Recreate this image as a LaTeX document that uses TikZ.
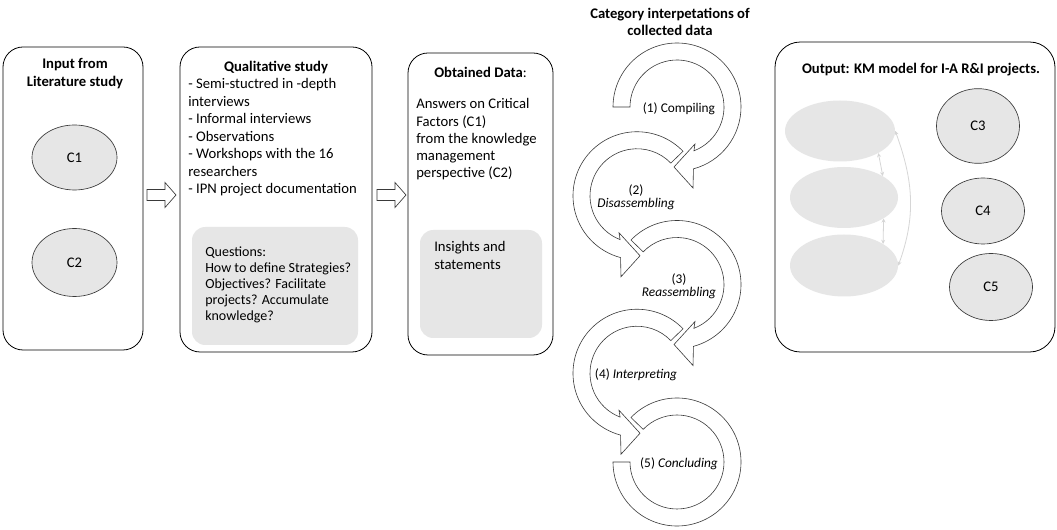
\documentclass[tikz,border=0pt]{standalone}
\usepackage{fontspec}
\setmainfont{Carlito}
\usetikzlibrary{arrows.meta,shapes.geometric}
\definecolor{panelgray}{HTML}{E6E6E6}
\definecolor{linkgray}{HTML}{D6D6D6}
\definecolor{edge}{HTML}{3A3A3A}

% circular arrow of the analysis cycle, drawn around the origin
\newcommand{\cycleheadpart}{-- (16,-81) -- (-3,-60) -- (18,-37) -- (-68.9:47)}

\begin{document}
\begin{tikzpicture}[x=0.75pt,y=0.75pt,
  panel/.style={draw=black, line width=0.6pt, rounded corners=15pt},
  graypanel/.style={fill=panelgray, rounded corners=10pt},
  crit/.style={ellipse, draw=edge, fill=panelgray, line width=0.5pt, inner sep=0pt,
    font=\fontsize{11}{13}\selectfont},
  blank/.style={ellipse, fill=panelgray, inner sep=0pt},
  title/.style={font=\bfseries\fontsize{11}{13.5}\selectfont, align=center, inner sep=0pt},
  body/.style={font=\fontsize{11}{13.1}\selectfont, align=left, inner sep=0pt, anchor=north west},
  qtext/.style={font=\fontsize{10.5}{12}\selectfont, align=left, inner sep=0pt, anchor=north west},
  blockarrow/.style={draw=edge, fill=white, line width=0.5pt, line join=miter},
  cyc/.style={draw=edge, fill=white, line width=0.45pt,
    preaction={draw=white, line width=3.2pt}},
  steplabel/.style={font=\fontsize{10}{9.75}\selectfont, align=center, inner sep=0pt},
  link/.style={draw=linkgray, line width=0.6pt,
    {Stealth[length=3pt,width=3pt]}-{Stealth[length=3pt,width=3pt]}}
]
\useasboundingbox (0,0) rectangle (1057,-530);
\fill[white] (0,0) rectangle (1057,-530);

% ---- input from literature
\draw[panel] (3,-47) rectangle (143,-350);
\node[title] (littitle) at (75,-74) {Input from\\Literature study};
\node[crit, minimum width=63.75pt, minimum height=48.75pt] (c1) at (74.5,-157.5) {C1};
\node[crit, minimum width=63.75pt, minimum height=51pt] (c2) at (74.5,-262.5) {C2};

% ---- block arrow
\coordinate (ba1) at (147,-195);
\draw[blockarrow] (ba1) ++(0,5.5) -- ++(18,0) -- ++(0,7) -- ++(11,-12.5)
  -- ++(-11,-12.5) -- ++(0,7) -- ++(-18,0) -- cycle;

% ---- qualitative study
\draw[panel] (180,-47) rectangle (372,-352);
\node[title] (qualtitle) at (276,-68) {Qualitative study};
\node[body] (qualtext) at (188,-78.5) {- Semi-stuctred in -depth\\interviews\\- Informal interviews\\- Observations\\- Workshops with the 16\\researchers\\- IPN project documentation};
\fill[graypanel] (192,-227) rectangle (358,-345);
\node[qtext] (questions) at (205,-247) {Questions:\\How to define Strategies?\\Objectives? Facilitate\\projects? Accumulate\\knowledge?};

% ---- block arrow
\coordinate (ba2) at (377,-195);
\draw[blockarrow] (ba2) ++(0,5.5) -- ++(18,0) -- ++(0,7) -- ++(11,-12.5)
  -- ++(-11,-12.5) -- ++(0,7) -- ++(-18,0) -- cycle;

% ---- obtained data
\draw[panel] (408,-53) rectangle (553,-355);
\node[inner sep=0pt, font=\fontsize{11}{13.5}\selectfont] (datatitle) at (480.5,-72) {\textbf{Obtained Data}:};
\node[body, font=\fontsize{11}{12.9}\selectfont] (datatext) at (416,-98.5) {Answers on Critical\\Factors (C1)\\from the knowledge\\management\\perspective (C2)};
\fill[graypanel] (420,-230) rectangle (542,-338);
\node[body, font=\fontsize{11}{12.9}\selectfont] (insights) at (434,-241.5) {Insights and\\statements};

% ---- analysis cycle
\node[title, font=\bfseries\fontsize{11}{12.75}\selectfont] (cattitle) at (670,-21.5) {Category interpetations of\\collected data};

\begin{scope}[shift={(677,-462)}]
  \draw[cyc] (136:64) arc[start angle=136, end angle=-180, radius=64]
    -- (-180:47) arc[start angle=-180, end angle=136, radius=47] -- cycle;
\end{scope}
\begin{scope}[shift={(637,-373.25)}, xscale=-1]
  \draw[cyc] (136:64) arc[start angle=136, end angle=-75.1, radius=64]
    \cycleheadpart arc[start angle=-68.9, end angle=136, radius=47] -- cycle;
\end{scope}
\begin{scope}[shift={(677,-284.5)}]
  \draw[cyc] (136:64) arc[start angle=136, end angle=-75.1, radius=64]
    \cycleheadpart arc[start angle=-68.9, end angle=136, radius=47] -- cycle;
\end{scope}
\begin{scope}[shift={(637,-195.75)}, xscale=-1]
  \draw[cyc] (136:64) arc[start angle=136, end angle=-75.1, radius=64]
    \cycleheadpart arc[start angle=-68.9, end angle=136, radius=47] -- cycle;
\end{scope}
\begin{scope}[shift={(677,-107)}]
  \draw[cyc] (180:64) arc[start angle=180, end angle=-75.1, radius=64]
    \cycleheadpart arc[start angle=-68.9, end angle=180, radius=47] -- cycle;
\end{scope}

\node[steplabel] (s1) at (679,-109) {(1) Compiling};
\node[steplabel] (s2) at (636,-197.5) {(2)\\\textit{Disassembling}};
\node[steplabel] (s3) at (679,-286.5) {(3)\\\textit{Reassembling}};
\node[steplabel] (s4) at (636,-375) {(4) \textit{Interpreting}};
\node[steplabel] (s5) at (679,-464) {(5) \textit{Concluding}};

% ---- output model
\draw[panel, rounded corners=19pt] (775,-42) rectangle (1055,-352);
\node[title] (outtitle) at (921,-70) {Output: KM model for I-A R\&I projects.};
\node[blank, minimum width=82.5pt, minimum height=45.75pt] (e1) at (840,-131) {};
\node[blank, minimum width=81pt, minimum height=45.75pt] (e2) at (844,-197.5) {};
\node[blank, minimum width=81pt, minimum height=46.5pt] (e3) at (844,-265.5) {};
\draw[link] (e1.-30) -- (e2.29);
\draw[link] (e2.-28) -- (e3.29);
\draw[link] (e1.east) to[out=-70,in=70] (e3.east);
\node[crit, minimum width=62.25pt, minimum height=56pt] (c3) at (978,-126) {C3};
\node[crit, minimum width=62.25pt, minimum height=49.5pt] (c4) at (983,-211) {C4};
\node[crit, minimum width=62.25pt, minimum height=50.25pt] (c5) at (991,-287) {C5};
\end{tikzpicture}
\end{document}
